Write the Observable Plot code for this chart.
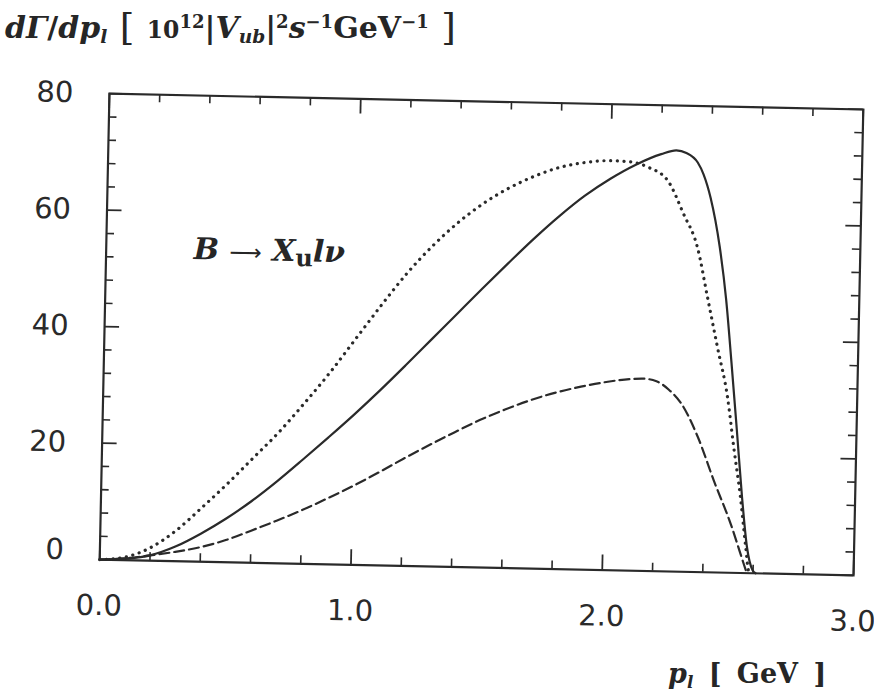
<!DOCTYPE html>
<html>
<head>
<meta charset="utf-8">
<script src="https://cdn.jsdelivr.net/npm/d3@7"></script>
<script src="https://cdn.jsdelivr.net/npm/@observablehq/plot@0.6"></script>
<style>
  html, body { margin: 0; padding: 0; background: #fff; }
  body { width: 880px; height: 696px; overflow: hidden; position: relative; }
  #figure { position: absolute; left: 0; top: 0; width: 880px; height: 696px;
            transform: rotate(1.2deg); transform-origin: 481px 334px; }
  .tex { position: absolute; font-family: "DejaVu Serif", serif; font-weight: bold;
         color: #262626; white-space: nowrap; line-height: 1; }
  .it { font-style: italic; }
  .sub { font-size: 0.62em; position: relative; top: 0.28em; }
  .sup { font-size: 0.6em; position: relative; top: -0.55em; }
  .small { font-size: 0.78em; }
  .big { font-size: 1.25em; font-weight: normal; position: relative; top: 0.06em; }
</style>
</head>
<body>
<div id="figure"></div>
<div class="tex" id="title" style="left:5px; top:7px; font-size:30px; word-spacing:2px;">
  <span class="it">d&Gamma;</span>/<span class="it">dp</span><span class="sub it">l</span>
  <span class="big">[</span>
  <span class="small">10</span><span class="sup">12</span>|<span class="it">V</span><span class="sub it">ub</span>|<span class="sup">2</span><span class="it">s</span><span class="sup">&minus;1</span>GeV<span class="sup">&minus;1</span>
  <span class="big">]</span>
</div>
<div class="tex" id="xlabel" style="left:668px; top:660px; font-size:27px; word-spacing:6px;">
  <span class="it">p</span><span class="sub it">l</span> [ GeV ]
</div>
<script>
// Lepton momentum spectrum of B -> X_u l nu, three curves
const solidP = [0, 0.1, 0.2, 0.3, 0.4, 0.5, 0.6, 0.7, 0.8, 0.9, 1.0, 1.1, 1.2, 1.3, 1.4, 1.5, 1.6, 1.7, 1.8, 1.9, 2.0, 2.1, 2.2, 2.26, 2.3, 2.346, 2.37, 2.4, 2.44, 2.47, 2.497, 2.524, 2.55, 2.574, 2.598, 2.61];
const solidRate = [0, 0.25, 0.9, 2.5, 4.8, 7.5, 10.6, 14.1, 17.9, 21.8, 25.8, 30.0, 34.4, 38.9, 43.4, 47.9, 52.3, 56.6, 60.6, 64.2, 67.2, 69.7, 71.6, 72.3, 71.9, 70.3, 68.3, 64.3, 56.0, 47.0, 36.0, 24.4, 13.0, 4.4, 0.5, 0];

const dottedP = [0, 0.1, 0.2, 0.3, 0.4, 0.5, 0.6, 0.7, 0.8, 0.9, 1.0, 1.1, 1.2, 1.3, 1.4, 1.5, 1.6, 1.7, 1.8, 1.9, 2.0, 2.07, 2.15, 2.228, 2.293, 2.352, 2.396, 2.44, 2.484, 2.513, 2.544, 2.569, 2.582, 2.59];
const dottedRate = [0, 0.5, 2.2, 5.2, 9.2, 13.4, 17.9, 22.4, 27.5, 32.9, 38.8, 44.7, 50.3, 55.1, 59.2, 62.6, 65.3, 67.4, 69.0, 69.9, 70.3, 70.2, 69.3, 67.1, 61.5, 55.7, 47.2, 38.6, 30.1, 21.5, 12.9, 4.4, 0.4, 0];

const dashedP = [0, 0.1, 0.2, 0.3, 0.4, 0.5, 0.6, 0.7, 0.8, 0.9, 1.0, 1.1, 1.2, 1.3, 1.4, 1.5, 1.6, 1.7, 1.8, 1.9, 2.0, 2.1, 2.15, 2.2, 2.25, 2.3, 2.37, 2.436, 2.507, 2.562, 2.575];
const dashedRate = [0, 0.3, 0.9, 1.6, 2.5, 3.8, 5.5, 7.3, 9.2, 11.3, 13.5, 15.9, 18.4, 20.8, 23.1, 25.3, 27.2, 28.9, 30.3, 31.4, 32.3, 32.9, 33.0, 32.6, 31.2, 28.9, 23.1, 15.8, 8.4, 1.6, 0];

const xMajor = [0, 1, 2, 3];
const xMinor = [0.2, 0.4, 0.6, 0.8, 1.2, 1.4, 1.6, 1.8, 2.2, 2.4, 2.6, 2.8];
const yMajor = [0, 20, 40, 60, 80];
const yMinor = [4, 8, 12, 16, 24, 28, 32, 36, 44, 48, 52, 56, 64, 68, 72, 76];

// position of the process label, in data units (left edge, baseline)
const processLabel = {p: 0.35, rate: 51.7};

const toPoints = (xs, ys) => xs.map((p, i) => ({p, rate: ys[i]}));
const solid = toPoints(solidP, solidRate);
const dotted = toPoints(dottedP, dottedRate);
const dashed = toPoints(dashedP, dashedRate);

const W = 880, H = 696;
const M = {top: 101, right: 22, bottom: 129, left: 104};
const frameW = W - M.left - M.right;
const frameH = H - M.top - M.bottom;
const ink = "#2a2a2a";
const majorLen = 15, minorLen = 8;

const axisText = {tickSize: 0, fontSize: 29, fontFamily: "DejaVu Sans", fill: ink};

const chart = Plot.plot({
  width: W,
  height: H,
  marginTop: M.top, marginRight: M.right, marginBottom: M.bottom, marginLeft: M.left,
  style: {background: "transparent", color: ink, fontFamily: "DejaVu Sans"},
  x: {domain: [0, 3], label: null},
  y: {domain: [0, 80], label: null},
  marks: [
    // inward ticks on all four sides
    Plot.tickX(xMajor, {x: d => d, insetTop: frameH - majorLen, stroke: ink, strokeWidth: 1.8}),
    Plot.tickX(xMinor, {x: d => d, insetTop: frameH - minorLen, stroke: ink, strokeWidth: 1.6}),
    Plot.tickX(xMajor, {x: d => d, insetBottom: frameH - majorLen, stroke: ink, strokeWidth: 1.8}),
    Plot.tickX(xMinor, {x: d => d, insetBottom: frameH - minorLen, stroke: ink, strokeWidth: 1.6}),
    Plot.tickY(yMajor, {y: d => d, insetRight: frameW - majorLen, stroke: ink, strokeWidth: 1.8}),
    Plot.tickY(yMinor, {y: d => d, insetRight: frameW - minorLen, stroke: ink, strokeWidth: 1.6}),
    Plot.tickY(yMajor, {y: d => d, insetLeft: frameW - majorLen, stroke: ink, strokeWidth: 1.8}),
    Plot.tickY(yMinor, {y: d => d, insetLeft: frameW - minorLen, stroke: ink, strokeWidth: 1.6}),
    Plot.frame({stroke: ink, strokeWidth: 2.2}),
    // spectra
    Plot.line(dashed, {x: "p", y: "rate", curve: "monotone-x", stroke: ink, strokeWidth: 2.2, strokeDasharray: "10 5"}),
    Plot.line(dotted, {x: "p", y: "rate", curve: "monotone-x", stroke: ink, strokeWidth: 3.2, strokeLinecap: "round", strokeDasharray: "0.1 6.6"}),
    Plot.line(solid, {x: "p", y: "rate", curve: "monotone-x", stroke: ink, strokeWidth: 2.2}),
    // tick labels
    Plot.axisY(yMajor.filter(d => d > 0), {...axisText, tickPadding: 36}),
    Plot.axisY([0], {...axisText, tickPadding: 36, dy: -9}),
    Plot.axisX(xMajor, {...axisText, tickPadding: 35, tickFormat: d3.format(".1f")})
  ]
});

const fig = document.getElementById("figure");
fig.appendChild(chart);

// process label placed through the chart's scales
const sx = chart.scale("x"), sy = chart.scale("y");
const labSize = 30;
const lab = document.createElement("div");
lab.className = "tex";
lab.style.fontSize = labSize + "px";
lab.innerHTML = '<span class="it">B</span> <span style="font-family:\'DejaVu Sans\';font-weight:normal;font-size:0.75em">&#x27F6;</span> <span class="it">X</span><span style="font-size:0.8em;position:relative;top:0.2em">u</span><span class="it">l&nu;</span>';
lab.style.left = sx.apply(processLabel.p) + "px";
// line-height 1: baseline sits about 0.85em below the box top
lab.style.top = (sy.apply(processLabel.rate) - 0.85 * labSize) + "px";
fig.appendChild(lab);
</script>
</body>
</html>
